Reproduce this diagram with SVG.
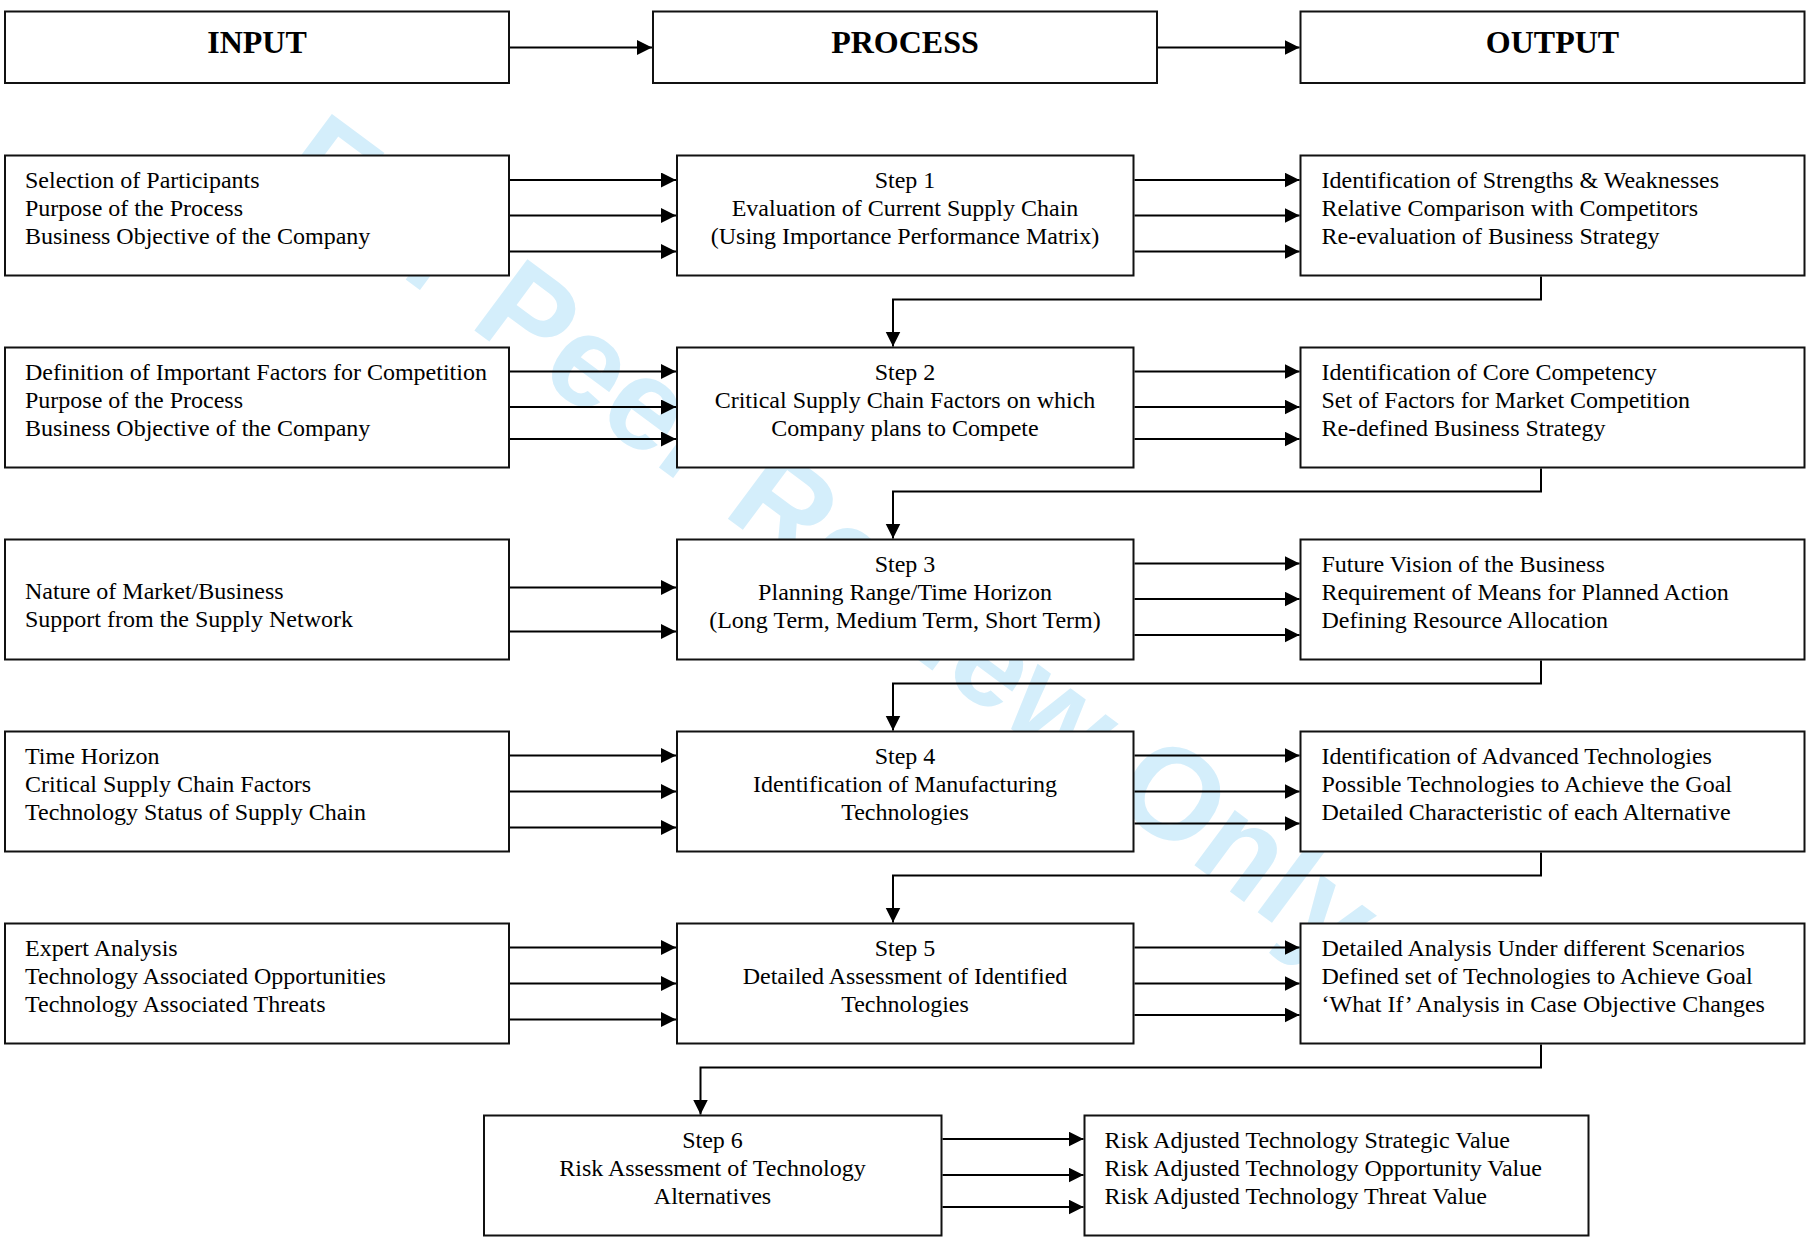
<svg xmlns="http://www.w3.org/2000/svg" width="1806" height="1241" viewBox="0 0 1806 1241">
<defs>
<marker id="ah" markerUnits="userSpaceOnUse" markerWidth="16" markerHeight="16" refX="15" refY="7.5" orient="auto">
<path d="M0,0 L15,7.5 L0,15 z" fill="#000"/>
</marker>
<style>
.box{fill:#fff;stroke:#111;stroke-width:2}
.t{font-family:"Liberation Serif","Times New Roman",serif;font-size:24px;fill:#000}
.c{text-anchor:middle}
.h{font-family:"Liberation Serif","Times New Roman",serif;font-size:32px;font-weight:bold;text-anchor:middle;fill:#000}
.ln{fill:none;stroke:#000;stroke-width:2;marker-end:url(#ah)}
.wm{font-family:"Liberation Sans",Arial,sans-serif;font-size:129px;font-weight:bold;fill:#d4eefb}
</style>
</defs>
<rect width="1806" height="1241" fill="#fff"/>
<text class="wm" transform="translate(272,180) rotate(36.6)">For Peer Review Only</text>

<g id="hdr-input"><rect class="box" x="5" y="11.5" width="504" height="71.5"/><text class="h" x="257" y="53">INPUT</text></g>
<g id="hdr-process"><rect class="box" x="653" y="11.5" width="504" height="71.5"/><text class="h" x="905" y="53">PROCESS</text></g>
<g id="hdr-output"><rect class="box" x="1300.5" y="11.5" width="504" height="71.5"/><text class="h" x="1552.5" y="53">OUTPUT</text></g>

<g id="in1"><rect class="box" x="5" y="155.5" width="504" height="120"/>
<text class="t" x="25" y="187.5">Selection of Participants</text>
<text class="t" x="25" y="215.5">Purpose of the Process</text>
<text class="t" x="25" y="243.5">Business Objective of the Company</text></g>
<g id="step1"><rect class="box" x="677" y="155.5" width="456.5" height="120"/>
<text class="t c" x="905" y="187.5">Step 1</text>
<text class="t c" x="905" y="215.5">Evaluation of Current Supply Chain</text>
<text class="t c" x="905" y="243.5">(Using Importance Performance Matrix)</text></g>
<g id="out1"><rect class="box" x="1300.5" y="155.5" width="504" height="120"/>
<text class="t" x="1321.5" y="187.5">Identification of Strengths &amp; Weaknesses</text>
<text class="t" x="1321.5" y="215.5">Relative Comparison with Competitors</text>
<text class="t" x="1321.5" y="243.5">Re-evaluation of Business Strategy</text></g>

<g id="in2"><rect class="box" x="5" y="347.5" width="504" height="120"/>
<text class="t" x="25" y="379.5">Definition of Important Factors for Competition</text>
<text class="t" x="25" y="407.5">Purpose of the Process</text>
<text class="t" x="25" y="435.5">Business Objective of the Company</text></g>
<g id="step2"><rect class="box" x="677" y="347.5" width="456.5" height="120"/>
<text class="t c" x="905" y="379.5">Step 2</text>
<text class="t c" x="905" y="407.5">Critical Supply Chain Factors on which</text>
<text class="t c" x="905" y="435.5">Company plans to Compete</text></g>
<g id="out2"><rect class="box" x="1300.5" y="347.5" width="504" height="120"/>
<text class="t" x="1321.5" y="379.5">Identification of Core Competency</text>
<text class="t" x="1321.5" y="407.5">Set of Factors for Market Competition</text>
<text class="t" x="1321.5" y="435.5">Re-defined Business Strategy</text></g>

<g id="in3"><rect class="box" x="5" y="539.5" width="504" height="120"/>
<text class="t" x="25" y="599">Nature of Market/Business</text>
<text class="t" x="25" y="627">Support from the Supply Network</text></g>
<g id="step3"><rect class="box" x="677" y="539.5" width="456.5" height="120"/>
<text class="t c" x="905" y="571.5">Step 3</text>
<text class="t c" x="905" y="599.5">Planning Range/Time Horizon</text>
<text class="t c" x="905" y="627.5">(Long Term, Medium Term, Short Term)</text></g>
<g id="out3"><rect class="box" x="1300.5" y="539.5" width="504" height="120"/>
<text class="t" x="1321.5" y="571.5">Future Vision of the Business</text>
<text class="t" x="1321.5" y="599.5">Requirement of Means for Planned Action</text>
<text class="t" x="1321.5" y="627.5">Defining Resource Allocation</text></g>

<g id="in4"><rect class="box" x="5" y="731.5" width="504" height="120"/>
<text class="t" x="25" y="763.5">Time Horizon</text>
<text class="t" x="25" y="791.5">Critical Supply Chain Factors</text>
<text class="t" x="25" y="819.5">Technology Status of Supply Chain</text></g>
<g id="step4"><rect class="box" x="677" y="731.5" width="456.5" height="120"/>
<text class="t c" x="905" y="763.5">Step 4</text>
<text class="t c" x="905" y="791.5">Identification of Manufacturing</text>
<text class="t c" x="905" y="819.5">Technologies</text></g>
<g id="out4"><rect class="box" x="1300.5" y="731.5" width="504" height="120"/>
<text class="t" x="1321.5" y="763.5">Identification of Advanced Technologies</text>
<text class="t" x="1321.5" y="791.5">Possible Technologies to Achieve the Goal</text>
<text class="t" x="1321.5" y="819.5">Detailed Characteristic of each Alternative</text></g>

<g id="in5"><rect class="box" x="5" y="923.5" width="504" height="120"/>
<text class="t" x="25" y="955.5">Expert Analysis</text>
<text class="t" x="25" y="983.5">Technology Associated Opportunities</text>
<text class="t" x="25" y="1011.5">Technology Associated Threats</text></g>
<g id="step5"><rect class="box" x="677" y="923.5" width="456.5" height="120"/>
<text class="t c" x="905" y="955.5">Step 5</text>
<text class="t c" x="905" y="983.5">Detailed Assessment of Identified</text>
<text class="t c" x="905" y="1011.5">Technologies</text></g>
<g id="out5"><rect class="box" x="1300.5" y="923.5" width="504" height="120"/>
<text class="t" x="1321.5" y="955.5">Detailed Analysis Under different Scenarios</text>
<text class="t" x="1321.5" y="983.5">Defined set of Technologies to Achieve Goal</text>
<text class="t" x="1321.5" y="1011.5">‘What If’ Analysis in Case Objective Changes</text></g>

<g id="step6"><rect class="box" x="484" y="1115.5" width="457.5" height="120"/>
<text class="t c" x="712.5" y="1147.5">Step 6</text>
<text class="t c" x="712.5" y="1175.5">Risk Assessment of Technology</text>
<text class="t c" x="712.5" y="1203.5">Alternatives</text></g>
<g id="out6"><rect class="box" x="1084.5" y="1115.5" width="504" height="120"/>
<text class="t" x="1104.5" y="1147.5">Risk Adjusted Technology Strategic Value</text>
<text class="t" x="1104.5" y="1175.5">Risk Adjusted Technology Opportunity Value</text>
<text class="t" x="1104.5" y="1203.5">Risk Adjusted Technology Threat Value</text></g>

<g id="connectors">
<path class="ln" d="M510 47.5 H652"/>
<path class="ln" d="M1158 47.5 H1299.5"/>

<path class="ln" d="M510 180 H676"/>
<path class="ln" d="M510 215.5 H676"/>
<path class="ln" d="M510 251.5 H676"/>
<path class="ln" d="M1134.5 180 H1299.5"/>
<path class="ln" d="M1134.5 215.5 H1299.5"/>
<path class="ln" d="M1134.5 251.5 H1299.5"/>
<path class="ln" d="M1541 276.5 V299.5 H893 V346.5"/>

<path class="ln" d="M510 371.5 H676"/>
<path class="ln" d="M510 407 H676"/>
<path class="ln" d="M510 439 H676"/>
<path class="ln" d="M1134.5 371.5 H1299.5"/>
<path class="ln" d="M1134.5 407 H1299.5"/>
<path class="ln" d="M1134.5 439 H1299.5"/>
<path class="ln" d="M1541 468.5 V491.5 H893 V538.5"/>

<path class="ln" d="M510 587.5 H676"/>
<path class="ln" d="M510 631.5 H676"/>
<path class="ln" d="M1134.5 563.5 H1299.5"/>
<path class="ln" d="M1134.5 599 H1299.5"/>
<path class="ln" d="M1134.5 635 H1299.5"/>
<path class="ln" d="M1541 660.5 V683.5 H893 V730.5"/>

<path class="ln" d="M510 755.5 H676"/>
<path class="ln" d="M510 791.5 H676"/>
<path class="ln" d="M510 827.5 H676"/>
<path class="ln" d="M1134.5 755.5 H1299.5"/>
<path class="ln" d="M1134.5 791.5 H1299.5"/>
<path class="ln" d="M1134.5 823.5 H1299.5"/>
<path class="ln" d="M1541 852.5 V875.5 H893 V922.5"/>

<path class="ln" d="M510 947.5 H676"/>
<path class="ln" d="M510 983.5 H676"/>
<path class="ln" d="M510 1019.5 H676"/>
<path class="ln" d="M1134.5 947.5 H1299.5"/>
<path class="ln" d="M1134.5 983.5 H1299.5"/>
<path class="ln" d="M1134.5 1015 H1299.5"/>
<path class="ln" d="M1541 1044.5 V1067.5 H700.5 V1114.5"/>

<path class="ln" d="M942.5 1139 H1083.5"/>
<path class="ln" d="M942.5 1175 H1083.5"/>
<path class="ln" d="M942.5 1207 H1083.5"/>
</g>
</svg>
